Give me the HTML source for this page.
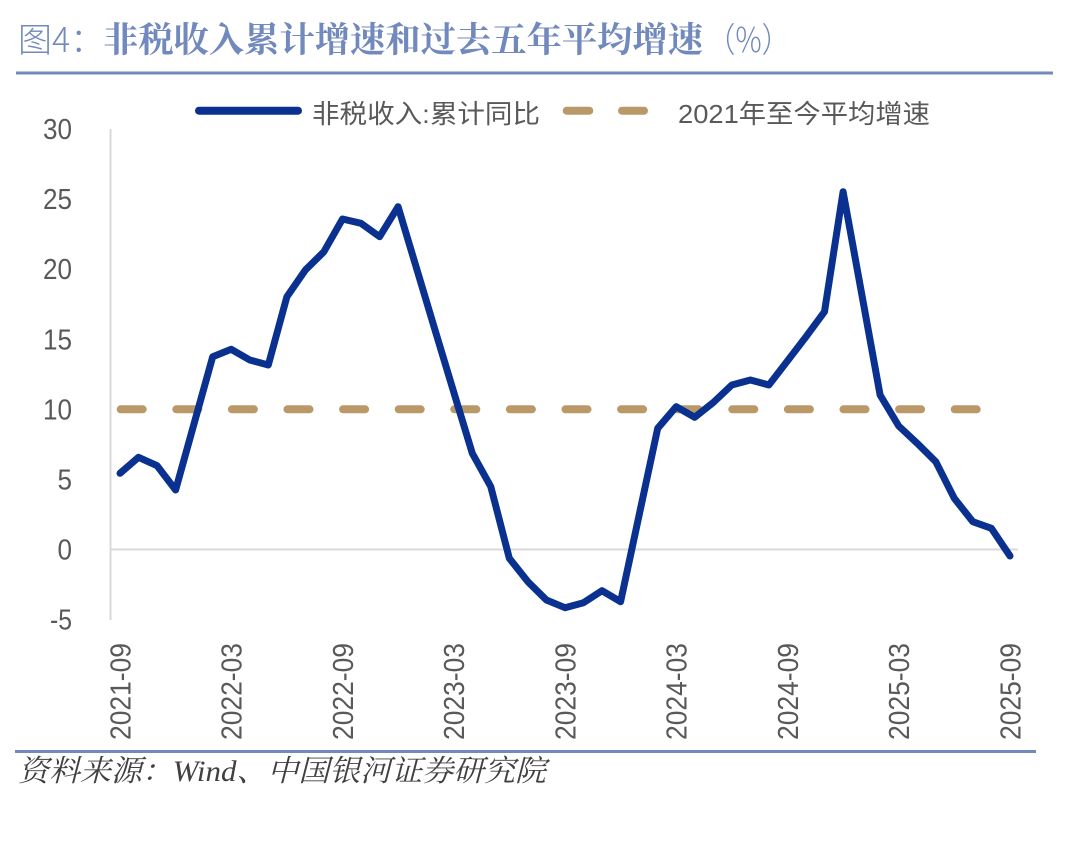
<!DOCTYPE html>
<html>
<head>
<meta charset="utf-8">
<style>
  html, body { margin:0; padding:0; background:#ffffff; }
  svg { display:block; }
</style>
</head>
<body>
<svg width="1080" height="845" viewBox="0 0 1080 845" xmlns="http://www.w3.org/2000/svg">
  <rect x="0" y="0" width="1080" height="845" fill="#ffffff"/>

  <!-- Title -->
  <text x="18" y="52" font-family="'Noto Sans CJK SC', sans-serif" font-size="34" fill="#7189bd" font-weight="300">图4：</text>
  <text x="103" y="52" font-family="'Noto Serif CJK SC', serif" font-size="35" font-weight="700" fill="#7189bd" textLength="600" lengthAdjust="spacingAndGlyphs">非税收入累计增速和过去五年平均增速</text>
  <text x="706" y="52" font-family="'Noto Sans CJK SC', sans-serif" font-size="34" font-weight="300" fill="#7189bd" textLength="85" lengthAdjust="spacingAndGlyphs">（%）</text>
  <rect x="16" y="71.5" width="1037" height="3" fill="#7189bd"/>

  <!-- Legend -->
  <line x1="199" y1="110.7" x2="298" y2="110.7" stroke="#0b3190" stroke-width="8" stroke-linecap="round"/>
  <text x="312" y="123" font-family="'Liberation Sans','Noto Sans CJK SC', sans-serif" font-size="26" fill="#595959" textLength="228" lengthAdjust="spacingAndGlyphs">非税收入:累计同比</text>
  <line x1="566.7" y1="110.7" x2="589.3" y2="110.7" stroke="#ba9868" stroke-width="8" stroke-linecap="round"/>
  <line x1="622" y1="110.7" x2="644" y2="110.7" stroke="#ba9868" stroke-width="8" stroke-linecap="round"/>
  <text x="678" y="123" font-family="'Liberation Sans','Noto Sans CJK SC', sans-serif" font-size="26" fill="#595959" textLength="252" lengthAdjust="spacingAndGlyphs">2021年至今平均增速</text>

  <!-- Axes -->
  <line x1="110.5" y1="129" x2="110.5" y2="620" stroke="#d9d9d9" stroke-width="2"/>
  <line x1="110" y1="549.5" x2="1018" y2="549.5" stroke="#d9d9d9" stroke-width="2"/>

  <!-- Y labels -->
  <g font-family="'Liberation Sans', sans-serif" font-size="29" fill="#595959" text-anchor="end">
    <text x="72" y="139" textLength="29" lengthAdjust="spacingAndGlyphs">30</text>
    <text x="72" y="209.1" textLength="29" lengthAdjust="spacingAndGlyphs">25</text>
    <text x="72" y="279.2" textLength="29" lengthAdjust="spacingAndGlyphs">20</text>
    <text x="72" y="349.3" textLength="29" lengthAdjust="spacingAndGlyphs">15</text>
    <text x="72" y="419.3" textLength="29" lengthAdjust="spacingAndGlyphs">10</text>
    <text x="72" y="489.4" textLength="14.5" lengthAdjust="spacingAndGlyphs">5</text>
    <text x="72" y="559.5" textLength="14.5" lengthAdjust="spacingAndGlyphs">0</text>
    <text x="72" y="629.6" textLength="22" lengthAdjust="spacingAndGlyphs">-5</text>
  </g>

  <!-- X labels (rotated) -->
  <g font-family="'Liberation Sans', sans-serif" font-size="29" fill="#595959">
    <text transform="translate(130.4,740) rotate(-90)" textLength="97" lengthAdjust="spacingAndGlyphs">2021-09</text>
    <text transform="translate(241.6,740) rotate(-90)" textLength="97" lengthAdjust="spacingAndGlyphs">2022-03</text>
    <text transform="translate(352.9,740) rotate(-90)" textLength="97" lengthAdjust="spacingAndGlyphs">2022-09</text>
    <text transform="translate(464.1,740) rotate(-90)" textLength="97" lengthAdjust="spacingAndGlyphs">2023-03</text>
    <text transform="translate(575.4,740) rotate(-90)" textLength="97" lengthAdjust="spacingAndGlyphs">2023-09</text>
    <text transform="translate(686.6,740) rotate(-90)" textLength="97" lengthAdjust="spacingAndGlyphs">2024-03</text>
    <text transform="translate(797.8,740) rotate(-90)" textLength="97" lengthAdjust="spacingAndGlyphs">2024-09</text>
    <text transform="translate(909.1,740) rotate(-90)" textLength="97" lengthAdjust="spacingAndGlyphs">2025-03</text>
    <text transform="translate(1020.4,740) rotate(-90)" textLength="97" lengthAdjust="spacingAndGlyphs">2025-09</text>
  </g>

  <!-- Average dashed line -->
  <line x1="120.7" y1="409.3" x2="980" y2="409.3" stroke="#ba9868" stroke-width="8" stroke-linecap="round" stroke-dasharray="22 33.6"/>

  <!-- Main series -->
  <polyline fill="none" stroke="#0b3190" stroke-width="7" stroke-linejoin="round" stroke-linecap="round"
    points="120,473.3 138.5,457.3 157.1,465.7 175.6,490 212.7,356.7 231.2,349.3 249.8,360 268.3,365 286.9,296.7 305.4,270 323.9,251.7 342.5,219 361,223.3 379.6,236.7 398.1,206.7 435.2,330.6 453.7,392 472.3,453.3 490.8,486.7 509.3,558.3 527.9,581.7 546.4,600 565,607.7 583.5,602.7 602,590.7 620.6,601.7 657.7,428.3 676.2,406.7 694.7,417.3 713.3,402.5 731.8,385 750.4,380 768.9,385 787.4,361 806,336.7 824.5,311.7 843.1,191.7 880.1,395 898.7,426 917.2,443.3 935.8,461.7 954.3,498.3 972.8,521.7 991.4,528.3 1010,556"/>

  <!-- Bottom rule and source -->
  <rect x="15" y="750" width="1021" height="3" fill="#7189bd"/>
  <text x="18" y="781" font-family="'Liberation Serif','Noto Serif CJK SC', serif" font-style="italic" font-size="30" fill="#404040" textLength="528" lengthAdjust="spacingAndGlyphs">资料来源：Wind、中国银河证券研究院</text>
</svg>
</body>
</html>
